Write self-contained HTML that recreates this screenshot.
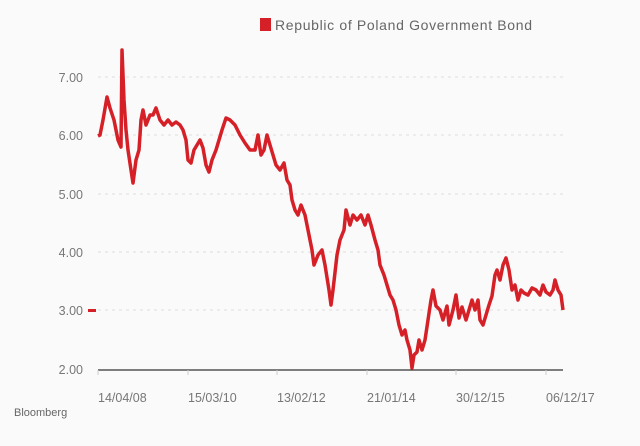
<!DOCTYPE html>
<html><head><style>
body{margin:0;background:#fafafa;}
svg{display:block;font-family:"Liberation Sans",sans-serif;}
</style></head><body>
<svg width="640" height="446" viewBox="0 0 640 446">
<rect width="640" height="446" fill="#fafafa"/>
<rect x="260" y="18" width="11" height="13" fill="#d62027"/>
<text x="275" y="30" font-size="14" fill="#666" textLength="257">Republic of Poland Government Bond</text>
<g stroke="#ddd" stroke-dasharray="3,4" stroke-width="1">
<line x1="98" x2="563" y1="77" y2="77"/><line x1="98" x2="563" y1="135" y2="135"/>
<line x1="98" x2="563" y1="194" y2="194"/><line x1="98" x2="563" y1="252" y2="252"/>
<line x1="98" x2="563" y1="310" y2="310"/></g>
<g font-size="12.5" fill="#777" text-anchor="end">
<text x="83" y="82">7.00</text><text x="83" y="140">6.00</text><text x="83" y="199">5.00</text>
<text x="83" y="257">4.00</text><text x="83" y="315">3.00</text><text x="83" y="374">2.00</text></g>
<rect x="88" y="309" width="8" height="3" fill="#d62027"/>
<line x1="98" x2="563" y1="370" y2="370" stroke="#333" stroke-width="1.2"/>
<g stroke="#ccc"><line x1="98" x2="98" y1="370" y2="375"/><line x1="188" x2="188" y1="370" y2="375"/><line x1="277" x2="277" y1="370" y2="375"/><line x1="367" x2="367" y1="370" y2="375"/><line x1="456" x2="456" y1="370" y2="375"/><line x1="546" x2="546" y1="370" y2="375"/></g>
<g font-size="12.5" fill="#777">
<text x="98" y="402">14/04/08</text><text x="188" y="402">15/03/10</text><text x="277" y="402">13/02/12</text>
<text x="367" y="402">21/01/14</text><text x="456" y="402">30/12/15</text><text x="546" y="402">06/12/17</text></g>
<text x="14" y="416" font-size="11" fill="#666">Bloomberg</text>
<polyline fill="none" stroke="#d62027" stroke-width="3.5" stroke-linejoin="round" points="98,136 100,135 103,120 107,97 110,108 114,120 118,140 121,147 122,50 124,100 126,130 128,150 131,170 133,183 136,160 139,150 141,120 143,110 146,125 150,115 153,115 156,108 160,120 164,125 168,120 172,125 176,122 180,125 183,130 186,140 188,160 191,163 194,150 197,145 200,140 203,148 206,165 209,172 212,160 216,150 219,140 222,130 226,118 230,120 235,125 240,135 245,143 250,150 255,150 258,135 261,155 264,150 267,135 270,145 273,155 276,165 280,170 284,163 287,180 290,185 292,200 295,210 298,215 301,205 305,215 308,230 312,250 314,265 318,255 322,250 325,265 329,290 331,305 333,290 337,255 340,240 344,230 346,210 350,225 353,215 357,220 361,215 365,225 368,215 371,225 375,240 378,250 380,265 384,275 387,285 390,295 393,300 396,310 399,325 402,335 405,330 407,340 410,350 412,368 414,355 417,352 419,340 422,350 425,340 428,320 431,300 433,290 436,306 440,310 443,320 447,306 449,325 453,310 456,295 459,318 462,307 466,320 469,310 472,300 475,310 478,300 480,320 483,325 486,315 489,305 492,296 495,275 497,270 500,280 503,265 506,258 509,270 512,290 515,285 518,300 521,290 524,293 528,295 532,288 536,290 540,295 543,285 546,292 550,295 553,290 555,280 558,290 561,295 563,310"/>
</svg>
</body></html>
